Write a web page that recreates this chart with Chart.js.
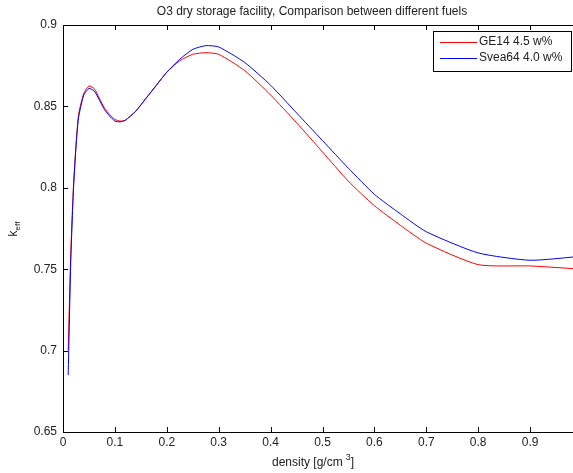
<!DOCTYPE html>
<html>
<head>
<meta charset="utf-8">
<script src="https://cdn.jsdelivr.net/npm/chart.js@4/dist/chart.umd.min.js"></script>
<style>
  html, body { margin: 0; padding: 0; background: #fff; }
  body { width: 573px; height: 473px; overflow: hidden; }
  #wrap { width: 630px; height: 473px; }
</style>
</head>
<body>
<div id="wrap"><canvas id="chart"></canvas></div>
<script>
const density = [0.01, 0.015, 0.02, 0.025, 0.03, 0.04, 0.05, 0.06, 0.07, 0.08, 0.09, 0.1,
  0.11, 0.12, 0.14, 0.16, 0.18, 0.2, 0.225, 0.25, 0.275, 0.3, 0.35, 0.4, 0.45, 0.5,
  0.55, 0.6, 0.65, 0.7, 0.8, 0.9, 1.0];
const ge14 = [0.700, 0.760, 0.800, 0.826, 0.845, 0.858, 0.8625, 0.861, 0.855, 0.849, 0.845, 0.842,
  0.841, 0.8415, 0.847, 0.855, 0.863, 0.871, 0.878, 0.882, 0.883, 0.882, 0.872, 0.857, 0.840, 0.822,
  0.804, 0.789, 0.777, 0.766, 0.7528, 0.752, 0.750];
const svea64 = [0.685, 0.755, 0.798, 0.825, 0.843, 0.857, 0.861, 0.8595, 0.854, 0.848, 0.844, 0.841,
  0.8405, 0.8415, 0.847, 0.855, 0.863, 0.871, 0.879, 0.885, 0.8873, 0.8865, 0.877, 0.863, 0.846, 0.829,
  0.812, 0.796, 0.784, 0.773, 0.760, 0.7555, 0.758];
const seriesNames = ["GE14 4.5 w%", "Svea64 4.0 w%"];
const seriesColors = ["#ff0000", "#0000ff"];
const chartTitle = "O3 dry storage facility, Comparison between different fuels";

const FONT = "'Liberation Sans', Arial, Helvetica, sans-serif";
const TEXT = "#222";

function pts(ys) {
  return density.map((x, i) => ({ x: x, y: ys[i] }));
}

// trims trailing zeros: 0.70 -> 0.7
function tickText(v) {
  return String(Number(v.toFixed(2)));
}

// MATLAB-style box: full frame, ticks pointing inward, legend inside the axes,
// title and axis labels with sub/superscripts
const matlabBox = {
  id: "matlabBox",
  afterDatasetsDraw(chart) {
    const { ctx, chartArea: a, scales } = chart;
    ctx.save();
    ctx.strokeStyle = "#000";
    ctx.lineWidth = 1;
    ctx.strokeRect(a.left + 0.5, a.top + 0.5, a.right - a.left, a.bottom - a.top);

    const tl = 5;
    ctx.beginPath();
    scales.x.ticks.forEach(t => {
      const px = Math.round(scales.x.getPixelForValue(t.value)) + 0.5;
      ctx.moveTo(px, a.bottom); ctx.lineTo(px, a.bottom - tl);
      ctx.moveTo(px, a.top); ctx.lineTo(px, a.top + tl);
    });
    scales.y.ticks.forEach(t => {
      const py = Math.round(scales.y.getPixelForValue(t.value)) + 0.5;
      ctx.moveTo(a.left, py); ctx.lineTo(a.left + tl, py);
      ctx.moveTo(a.right, py); ctx.lineTo(a.right - tl, py);
    });
    ctx.stroke();

    // legend
    const lx = 433, ly = a.top + 6, lw = 138, lh = 40;
    ctx.fillStyle = "#fff";
    ctx.fillRect(lx, ly, lw, lh);
    ctx.strokeStyle = "#000";
    ctx.strokeRect(lx + 0.5, ly + 0.5, lw, lh);
    ctx.font = "12px " + FONT;
    ctx.textBaseline = "middle";
    ctx.textAlign = "left";
    seriesNames.forEach((name, i) => {
      const y = ly + 11 + i * 16;
      ctx.strokeStyle = seriesColors[i];
      ctx.beginPath();
      ctx.moveTo(lx + 7, y + 0.5); ctx.lineTo(lx + 44, y + 0.5);
      ctx.stroke();
      ctx.fillStyle = TEXT;
      ctx.fillText(name, lx + 46, y);
    });

    // title
    ctx.fillStyle = TEXT;
    ctx.font = "12px " + FONT;
    ctx.textAlign = "center";
    ctx.fillText(chartTitle, 312, 12);
    ctx.textAlign = "left";

    // x axis title: density [g/cm^3]
    const main = "density [g/cm";
    const sup = "3";
    ctx.font = "12px " + FONT;
    const wMain = ctx.measureText(main).width;
    ctx.font = "9px " + FONT;
    const wSup = ctx.measureText(sup).width;
    ctx.font = "12px " + FONT;
    const wEnd = ctx.measureText("]").width;
    const total = wMain + 3 + wSup + wEnd;
    const x0 = 313 - total / 2;
    const yT = 463;
    ctx.fillText(main, x0, yT);
    ctx.font = "9px " + FONT;
    ctx.fillText(sup, x0 + wMain + 3, yT - 5);
    ctx.font = "12px " + FONT;
    ctx.fillText("]", x0 + wMain + 3 + wSup, yT);

    // y axis title: k_eff
    ctx.translate(14, 229);
    ctx.rotate(-Math.PI / 2);
    ctx.font = "12px " + FONT;
    const wk = ctx.measureText("k").width;
    ctx.font = "8px " + FONT;
    const we = ctx.measureText("eff").width;
    const tw = wk + we;
    ctx.font = "12px " + FONT;
    ctx.fillText("k", -tw / 2, 0);
    ctx.font = "8px " + FONT;
    ctx.fillText("eff", -tw / 2 + wk, 4);
    ctx.restore();
  }
};

new Chart(document.getElementById("chart"), {
  type: "line",
  data: {
    datasets: [
      {
        label: seriesNames[0],
        data: pts(ge14),
        borderColor: seriesColors[0],
        borderWidth: 1,
        pointRadius: 0,
        tension: 0.2,
        order: 2,
      },
      {
        label: seriesNames[1],
        data: pts(svea64),
        borderColor: seriesColors[1],
        borderWidth: 1,
        pointRadius: 0,
        tension: 0.2,
        order: 1,
      },
    ],
  },
  options: {
    responsive: true,
    maintainAspectRatio: false,
    animation: false,
    devicePixelRatio: 1,
    layout: { padding: { left: 0, right: 48, top: 25, bottom: 0 } },
    plugins: {
      legend: { display: false },
      tooltip: { enabled: false },
      title: { display: false },
    },
    scales: {
      x: {
        type: "linear",
        min: 0,
        max: 1,
        ticks: {
          stepSize: 0.1, color: TEXT, font: { family: FONT, size: 12 }, padding: 3, maxRotation: 0,
          // the label at 1 falls past the visible edge
          callback: v => (v >= 1 ? "" : tickText(v)),
        },
        grid: { display: false, drawTicks: false },
        border: { display: false },
        afterFit(scale) { scale.height = 41; },
      },
      y: {
        min: 0.65,
        max: 0.9,
        ticks: {
          stepSize: 0.05, color: TEXT, font: { family: FONT, size: 12 }, padding: 6,
          callback: v => tickText(v),
        },
        grid: { display: false, drawTicks: false },
        border: { display: false },
        afterFit(scale) { scale.width = 63; },
      },
    },
  },
  plugins: [matlabBox],
});
</script>
</body>
</html>
